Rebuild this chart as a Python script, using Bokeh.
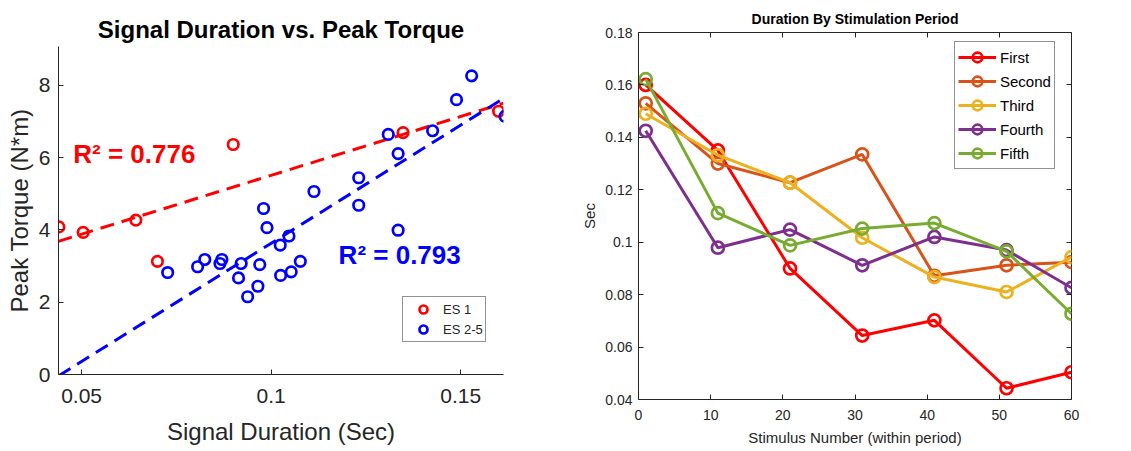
import numpy as np
from bokeh.plotting import figure
from bokeh.layouts import row
from bokeh.models import (Range1d, FixedTicker, NumeralTickFormatter, LinearAxis,
                          Legend, LegendItem, Label, CustomLabelingPolicy)
from bokeh.embed import file_html
from bokeh.resources import INLINE

FONT = "Liberation Sans"
INK = "#262626"

# ---- Signal duration (s) vs. peak torque (N*m) ----
es1_duration = [0.0440, 0.0504, 0.0643, 0.0700, 0.0900, 0.1348, 0.1600]
es1_torque = [4.08, 3.93, 4.27, 3.13, 6.36, 6.69, 7.28]

es25_duration = [0.0727, 0.0806, 0.0825, 0.0865, 0.0870, 0.0914, 0.0921, 0.0938,
                 0.0965, 0.0970, 0.0980, 0.0989, 0.1024, 0.1025, 0.1047, 0.1053,
                 0.1077, 0.1113, 0.1231, 0.1231, 0.1309, 0.1335, 0.1335, 0.1426,
                 0.1489, 0.1529, 0.1617]
es25_torque = [2.82, 2.98, 3.18, 3.07, 3.18, 2.67, 3.07, 2.15,
               2.44, 3.04, 4.59, 4.06, 3.58, 2.74, 3.83, 2.84,
               3.13, 5.06, 5.44, 4.68, 6.64, 6.11, 3.99, 6.74,
               7.60, 8.26, 7.14]

r2_es1_text = "R² = 0.776"
r2_es25_text = "R² = 0.793"

duration_ticks = [0.05, 0.1, 0.15]
torque_ticks = [0, 2, 4, 6, 8]

# ---- Duration by stimulation period ----
stimulus = [1, 11, 21, 31, 41, 51, 60]
period_names = ["First", "Second", "Third", "Fourth", "Fifth"]
first = [0.160, 0.135, 0.090, 0.0644, 0.0702, 0.0443, 0.0504]
second = [0.153, 0.130, 0.1227, 0.1335, 0.0872, 0.0912, 0.0924]
third = [0.149, 0.1332, 0.1227, 0.1017, 0.0867, 0.0810, 0.0943]
fourth = [0.1425, 0.0979, 0.1048, 0.0912, 0.1020, 0.0970, 0.0826]
fifth = [0.1622, 0.1111, 0.0988, 0.1052, 0.1073, 0.0965, 0.0727]
period_colors = ["#FF0000", "#D95319", "#EDB120", "#7E2F8E", "#77AC30"]

stim_ticks = [0, 10, 20, 30, 40, 50, 60]
sec_ticks = [0.04, 0.06, 0.08, 0.10, 0.12, 0.14, 0.16, 0.18]


def style_axis(ax, font_size, standoff):
    ax.axis_line_color = INK
    ax.major_tick_line_color = INK
    ax.major_tick_in = 5
    ax.major_tick_out = 0
    ax.minor_tick_line_color = None
    ax.major_label_text_font = FONT
    ax.major_label_text_font_size = font_size
    ax.major_label_text_color = INK
    ax.major_label_standoff = standoff
    ax.axis_label_text_font = FONT
    ax.axis_label_text_font_style = "normal"
    ax.axis_label_text_color = INK


def style_legend(leg, font_size, color):
    leg.label_text_font = FONT
    leg.label_text_font_size = font_size
    leg.label_text_color = color
    leg.margin = 0
    leg.border_line_color = INK
    leg.border_line_width = 1
    leg.background_fill_color = "white"
    leg.background_fill_alpha = 1


# ================= left panel =================
x_lo, x_hi = 0.0439, 0.1613
p1 = figure(width=560, height=451, output_backend="svg", toolbar_location=None,
            x_range=Range1d(x_lo, x_hi), y_range=Range1d(0, 9.07),
            min_border_left=58, min_border_right=57, min_border_top=46,
            min_border_bottom=77, title="Signal Duration vs. Peak Torque")
p1.frame_align = False
p1.title.align = "center"
p1.title.text_font = FONT
p1.title.text_font_size = "24px"
p1.title.text_font_style = "bold"
p1.title.text_color = "black"
p1.title.standoff = 8
p1.outline_line_color = None
p1.grid.visible = False
p1.background_fill_color = "white"

p1.xaxis.ticker = FixedTicker(ticks=duration_ticks)
p1.xaxis.formatter = NumeralTickFormatter(format="0.[00]")
p1.yaxis.ticker = FixedTicker(ticks=torque_ticks)
style_axis(p1.xaxis[0], "21px", 14)
style_axis(p1.yaxis[0], "21px", 8)
p1.xaxis.axis_label = "Signal Duration (Sec)"
p1.xaxis.axis_label_text_font_size = "24px"
p1.xaxis.axis_label_standoff = 12
p1.yaxis.axis_label = "Peak Torque (N*m)"
p1.yaxis.axis_label_text_font_size = "24px"
p1.yaxis.axis_label_standoff = 3

# least-squares fits drawn across the axis span
fit_x = np.array([x_lo, x_hi])
m1, b1 = np.polyfit(es1_duration, es1_torque, 1)
m2, b2 = np.polyfit(es25_duration, es25_torque, 1)
p1.line(fit_x, m1 * fit_x + b1, line_color="#FF0000", line_width=3, line_dash="14 8")
p1.line(fit_x, m2 * fit_x + b2, line_color="#0000FF", line_width=3, line_dash="14 8")

r_es1 = p1.scatter(es1_duration, es1_torque, marker="circle", size=10.5,
                   fill_color=None, line_color="#FF0000", line_width=2.7)
r_es25 = p1.scatter(es25_duration, es25_torque, marker="circle", size=10.5,
                    fill_color=None, line_color="#0000FF", line_width=2.7)

p1.add_layout(Label(x=0.0478, y=6.09, text=r2_es1_text, text_color="#FF0000",
                    text_font=FONT, text_font_size="26px", text_font_style="bold",
                    text_baseline="middle"))
p1.add_layout(Label(x=0.1178, y=3.30, text=r2_es25_text, text_color="#0000FF",
                    text_font=FONT, text_font_size="26px", text_font_style="bold",
                    text_baseline="middle"))

# legend location tuple is its bottom-left corner, measured from the frame's bottom-left
leg1 = Legend(items=[LegendItem(label="ES 1", renderers=[r_es1]),
                     LegendItem(label="ES 2-5", renderers=[r_es25])],
              location=(344, 32))
style_legend(leg1, "13px", INK)
leg1.label_height = 20
leg1.glyph_height = 20
leg1.glyph_width = 36
leg1.label_standoff = 2
leg1.spacing = 0
leg1.padding = 2
p1.add_layout(leg1)

# ================= right panel =================
p2 = figure(width=571, height=451, output_backend="svg", toolbar_location=None,
            x_range=Range1d(0, 60), y_range=Range1d(0.04, 0.18),
            min_border_left=78, min_border_right=60, min_border_top=32,
            min_border_bottom=52, title="Duration By Stimulation Period")
p2.frame_align = False
p2.title.align = "center"
p2.title.text_font = FONT
p2.title.text_font_size = "14px"
p2.title.text_font_style = "bold"
p2.title.text_color = "black"
p2.title.standoff = 4
p2.outline_line_color = INK
p2.grid.visible = False

p2.xaxis.ticker = FixedTicker(ticks=stim_ticks)
p2.yaxis.ticker = FixedTicker(ticks=sec_ticks)
p2.yaxis.formatter = NumeralTickFormatter(format="0.[00]")
style_axis(p2.xaxis[0], "14px", 10)
style_axis(p2.yaxis[0], "14px", 6)
p2.xaxis.axis_label = "Stimulus Number (within period)"
p2.xaxis.axis_label_text_font_size = "15px"
p2.xaxis.axis_label_standoff = 6
p2.yaxis.axis_label = "Sec"
p2.yaxis.axis_label_text_font_size = "15px"
p2.yaxis.axis_label_standoff = 4

# tick marks on the top and right edges of the box (no labels there)
top_ax = LinearAxis(ticker=FixedTicker(ticks=stim_ticks))
right_ax = LinearAxis(ticker=FixedTicker(ticks=sec_ticks))
for ax in (top_ax, right_ax):
    style_axis(ax, "1px", 0)
    ax.axis_line_color = None
    ax.major_label_policy = CustomLabelingPolicy(code="return []")
p2.add_layout(top_ax, "above")
p2.add_layout(right_ax, "right")

items = []
for name, vals, col in zip(period_names, [first, second, third, fourth, fifth], period_colors):
    ln = p2.line(stimulus, vals, line_color=col, line_width=3)
    sc = p2.scatter(stimulus, vals, marker="circle", size=12, fill_color=None,
                    line_color=col, line_width=2.7)
    items.append(LegendItem(label=name, renderers=[ln, sc]))

leg2 = Legend(items=items, location=(316, 230))
style_legend(leg2, "15px", "black")
leg2.label_height = 24
leg2.glyph_height = 24
leg2.glyph_width = 38
leg2.label_standoff = 4
leg2.spacing = 0
leg2.padding = 3
p2.add_layout(leg2)

layout = row(p1, p2)
open("out.html", "w").write(file_html(layout, INLINE))
